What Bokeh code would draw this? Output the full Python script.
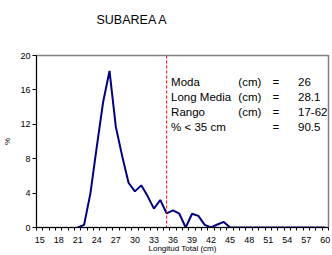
from bokeh.plotting import figure
from bokeh.models import FixedTicker, Span, Label, Range1d, Title
from bokeh.embed import file_html
from bokeh.resources import INLINE

# ---- data ----
lengths = [21, 22, 23, 24, 25, 26, 27, 28, 29, 30, 31, 32, 33, 34, 35, 36, 37, 38, 39, 40,
           41, 42, 43, 44, 45, 46, 47, 48, 49, 50, 51, 52, 53, 54, 55, 56, 57, 58, 59, 60]
percent = [0.0, 0.3, 4.0, 9.4, 14.6, 18.2, 11.7, 8.3, 5.2, 4.2, 4.9, 3.65, 2.2, 3.2, 1.65,
           2.0, 1.6, 0.0, 1.6, 1.35, 0.3, 0.0, 0.35, 0.65, 0.0, 0.0, 0.0, 0.0, 0.0, 0.0,
           0.0, 0.0, 0.0, 0.0, 0.0, 0.0, 0.0, 0.0, 0.0, 0.0]
x_tick_labels = [15, 18, 21, 24, 27, 30, 33, 36, 39, 42, 45, 48, 51, 54, 57, 60]
y_ticks = [0, 4, 8, 12, 16, 20]
cut_length = 35
title_text = "SUBAREA A"
stat_names = ["Moda", "Long Media", "Rango", "% < 35 cm"]
stat_units = ["(cm)", "(cm)", "(cm)", ""]
stat_values = ["26", "28.1", "17-62", "90.5"]

FONT = "Liberation Sans"

x_min, x_max = 14.5, 60.5
p = figure(width=332, height=255, output_backend="svg", toolbar_location=None,
           x_range=Range1d(x_min, x_max), y_range=Range1d(0, 20),
           min_border_left=33, min_border_right=4, min_border_top=55, min_border_bottom=0,
           background_fill_color="white", border_fill_color="white")

p.title.text = title_text
p.title.text_font = FONT
p.title.text_font_size = "12.5px"
p.title.text_font_style = "normal"
p.title.text_color = "black"
p.title.align = "left"
p.title.offset = 60
p.title.standoff = 0

# invisible spacer between the title and the plotting frame
p.add_layout(Title(text=" ", text_font_size="2px", standoff=25), "above")

p.xgrid.visible = False
p.ygrid.visible = False
p.outline_line_color = "#808080"
p.outline_line_width = 1.5

boundaries = [v - 0.5 for v in range(15, 62)]
xa = p.xaxis[0]
xa.ticker = FixedTicker(ticks=x_tick_labels, minor_ticks=boundaries)
xa.major_tick_out = 0
xa.major_tick_in = 0
xa.minor_tick_out = 3
xa.minor_tick_in = 0
xa.minor_tick_line_color = "black"
xa.axis_line_color = "black"
xa.major_label_text_font = FONT
xa.major_label_text_font_size = "9px"
xa.major_label_text_color = "black"
xa.major_label_standoff = 6
xa.axis_label = "Longitud Total (cm)"
xa.axis_label_text_font = FONT
xa.axis_label_text_font_size = "8px"
xa.axis_label_text_font_style = "normal"
xa.axis_label_text_color = "black"
xa.axis_label_standoff = -2

ya = p.yaxis[0]
ya.ticker = FixedTicker(ticks=y_ticks)
ya.major_tick_out = 4
ya.major_tick_in = 0
ya.minor_tick_out = 0
ya.minor_tick_in = 0
ya.axis_line_color = "black"
ya.major_tick_line_color = "black"
ya.major_label_text_font = FONT
ya.major_label_text_font_size = "9px"
ya.major_label_text_color = "black"
ya.major_label_standoff = 2
ya.axis_label = "%"
ya.axis_label_text_font = FONT
ya.axis_label_text_font_size = "8px"
ya.axis_label_text_font_style = "normal"
ya.axis_label_text_color = "black"
ya.axis_label_standoff = 5

p.add_layout(Span(location=cut_length, dimension="height", line_color="#ff0000",
                  line_dash="3 2", line_width=1))

p.line(lengths, percent, line_color="#000080", line_width=2)

# stats box
row_y = [16.9, 15.2, 13.4, 11.7]
for name, unit, val, yy in zip(stat_names, stat_units, stat_values, row_y):
    common = dict(y=yy, text_font=FONT, text_font_size="11.5px", text_color="black",
                  text_baseline="middle")
    p.add_layout(Label(x=35.7, text=name, **common))
    if unit:
        p.add_layout(Label(x=46.3, text=unit, **common))
    p.add_layout(Label(x=52.2, text="=", text_align="center", **common))
    p.add_layout(Label(x=55.7, text=val, **common))

open("out.html", "w").write(file_html(p, INLINE))
